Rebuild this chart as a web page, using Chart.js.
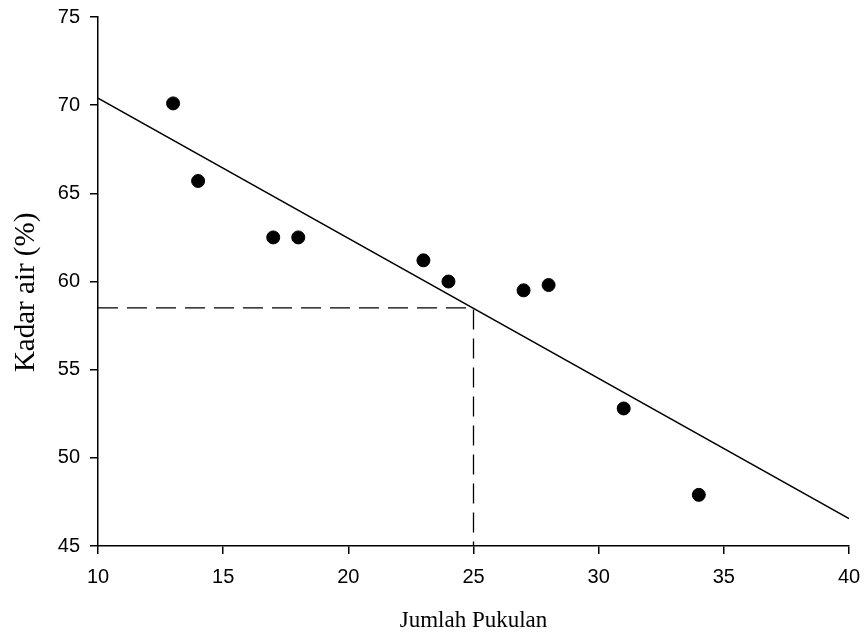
<!doctype html>
<html>

<head>
  <title>Kadar air vs Jumlah Pukulan</title>
  <script src="https://cdn.jsdelivr.net/npm/chart.js@4/dist/chart.umd.min.js"></script>
</head>
<style>
  body {
    margin: 0;
    background: #ffffff;
  }

  .chartContainer {
    width: 865px;
    height: 635px;
  }
</style>

<body>
  <div class="chartContainer">
    <canvas id="plotId" width="865" height="635"></canvas>
  </div>
  <script>
    // measured points
    var blows = [13, 14, 17, 18, 23, 24, 27, 28, 31, 34];
    var waterContent = [70.1, 65.7, 62.5, 62.5, 61.2, 60.0, 59.5, 59.8, 52.8, 47.9];
    // fitted trend line (end points)
    var fitX = [10, 40];
    var fitY = [70.4, 46.55];
    // reading at 25 blows
    var guideX = [10, 25, 25];
    var guideY = [58.5, 58.5, 45];
    var xTicks = [10, 15, 20, 25, 30, 35, 40];
    var yTicks = [45, 50, 55, 60, 65, 70, 75];

    function toPoints(xs, ys) {
      var out = [];
      for (var i = 0; i < xs.length; i++) {
        out.push({ x: xs[i], y: ys[i] });
      }
      return out;
    }

    var tickFont = { family: "'Liberation Sans', Arial, sans-serif", size: 20 };

    var ctx = document.getElementById("plotId").getContext('2d');
    var myChart = new Chart(ctx, {
      type: 'scatter',
      data: {
        datasets: [{
          label: 'Data',
          data: toPoints(blows, waterContent),
          backgroundColor: '#000000',
          borderColor: '#000000',
          pointRadius: 6.5,
          showLine: false
        }, {
          label: 'Fit',
          data: toPoints(fitX, fitY),
          showLine: true,
          borderColor: '#000000',
          borderWidth: 1.5,
          pointRadius: 0,
          fill: false
        }, {
          label: 'Guide',
          data: toPoints(guideX, guideY),
          showLine: true,
          borderColor: '#000000',
          borderWidth: 1.3,
          borderDash: [20, 9],
          pointRadius: 0,
          fill: false
        }]
      },
      options: {
        responsive: false,
        animation: false,
        layout: { padding: { left: 0, top: 17, right: 16, bottom: 0 } },
        plugins: {
          legend: { display: false },
          tooltip: { enabled: false }
        },
        scales: {
          x: {
            type: 'linear',
            min: 10,
            max: 40,
            afterBuildTicks: function (scale) {
              scale.ticks = xTicks.map(function (v) { return { value: v }; });
            },
            afterFit: function (scale) {
              scale.height = 89;
              scale.paddingLeft = 0;
              scale.paddingRight = 0;
            },
            border: { display: true, color: '#000000', width: 1.5 },
            grid: { drawOnChartArea: false, drawTicks: true, tickLength: 8, color: '#000000', lineWidth: 1.5 },
            ticks: { color: '#000000', font: tickFont, padding: 11, maxRotation: 0 },
            title: {
              display: true,
              text: 'Jumlah Pukulan',
              color: '#000000',
              font: { family: "'Liberation Serif', 'Times New Roman', serif", size: 23 },
              padding: { top: 0, bottom: 0 }
            }
          },
          y: {
            type: 'linear',
            min: 45,
            max: 75,
            afterBuildTicks: function (scale) {
              scale.ticks = yTicks.map(function (v) { return { value: v }; });
            },
            afterFit: function (scale) {
              scale.width = 98;
              scale.paddingTop = 0;
              scale.paddingBottom = 0;
            },
            border: { display: true, color: '#000000', width: 1.5 },
            grid: { drawOnChartArea: false, drawTicks: true, tickLength: 8, color: '#000000', lineWidth: 1.5 },
            ticks: { color: '#000000', font: tickFont, padding: 10 },
            title: {
              display: true,
              // trailing spaces nudge the rotated title a little lower, as in the original
              text: 'Kadar air (%)   ',
              color: '#000000',
              font: { family: "'Liberation Serif', 'Times New Roman', serif", size: 29 },
              padding: { top: 9, bottom: 0 }
            }
          }
        }
      }
    });
  </script>
</body>

</html>
